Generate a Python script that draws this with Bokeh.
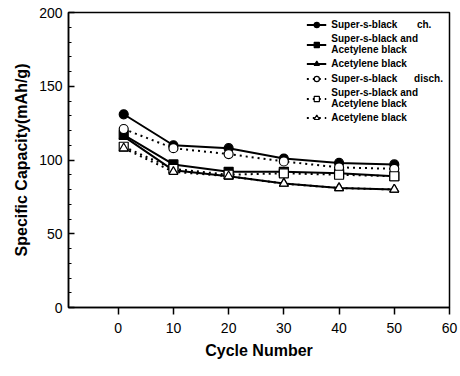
from bokeh.plotting import figure
from bokeh.models import Range1d, LinearAxis, FixedTicker, Legend, LegendItem
from bokeh.embed import file_html
from bokeh.resources import INLINE

cycles = [1, 10, 20, 30, 40, 50]
ch_super = [131, 110, 108, 101, 98, 97]
ch_super_ab = [117, 97, 92, 92, 91, 89]
ch_ab = [116, 93, 89, 84, 81, 80]
dis_super = [121, 108, 104, 99, 95, 94]
dis_super_ab = [109, 94, 90, 91, 90, 89]
dis_ab = [108, 92, 89, 84, 81, 80]

labels = ["Super-s-black\u00a0\u00a0\u00a0\u00a0\u00a0\u00a0\u00a0ch.",
          "Super-s-black and\nAcetylene black",
          "Acetylene black",
          "Super-s-black\u00a0\u00a0\u00a0\u00a0\u00a0\u00a0disch.",
          "Super-s-black and\nAcetylene black",
          "Acetylene black"]
x_ticks = [0, 10, 20, 30, 40, 50, 60]
y_ticks = [0, 50, 100, 150, 200]

FONT = "Liberation Sans"

p = figure(width=460, height=376, output_backend="svg", toolbar_location=None,
           x_range=Range1d(-9, 60), y_range=Range1d(0, 200),
           min_border_left=68, min_border_right=11, min_border_top=12, min_border_bottom=69)
p.xgrid.visible = False
p.ygrid.visible = False
p.outline_line_color = "black"
p.outline_line_width = 1.5
p.background_fill_color = "white"
p.border_fill_color = "white"

series = [
    (ch_super, "circle", "black", "solid"),
    (ch_super_ab, "square", "black", "solid"),
    (ch_ab, "triangle", "black", "solid"),
    (dis_super, "circle", "white", "2 4"),
    (dis_super_ab, "square", "white", "2 4"),
    (dis_ab, "triangle", "white", "2 4"),
]
items = []
for (vals, marker, fill, dash), lab in zip(series, labels):
    l = p.line(cycles, vals, line_color="black", line_width=2, line_dash=dash)
    s = p.scatter(cycles, vals, marker=marker, size=9, fill_color=fill,
                  line_color="black", line_width=1.2)
    items.append(LegendItem(label=lab, renderers=[l, s]))

legend = Legend(items=items, location="top_right")
legend.label_text_font = FONT
legend.label_text_font_style = "bold"
legend.label_text_font_size = "10px"
legend.label_text_color = "black"
legend.label_height = 13
legend.glyph_height = 13
legend.glyph_width = 20
legend.spacing = 2
legend.padding = 4
legend.margin = 2
legend.border_line_alpha = 0
legend.background_fill_alpha = 1
p.add_layout(legend)

xa = p.xaxis[0]
xa.ticker = FixedTicker(ticks=x_ticks)
xa.major_tick_out = 7
xa.major_tick_in = 0
xa.minor_tick_out = 0
xa.minor_tick_in = 0
xa.axis_line_width = 1.5
xa.major_tick_line_width = 1.5
xa.major_label_text_font = FONT
xa.major_label_text_font_size = "14px"
xa.major_label_text_color = "black"
xa.major_label_standoff = 8
xa.axis_label = "Cycle Number"
xa.axis_label_text_font = FONT
xa.axis_label_text_font_style = "bold"
xa.axis_label_text_font_size = "16px"
xa.axis_label_text_color = "black"
xa.axis_label_standoff = 6

ya = p.yaxis[0]
ya.ticker = FixedTicker(ticks=y_ticks, minor_ticks=list(range(0, 201, 10)))
ya.major_tick_in = 6
ya.major_tick_out = 0
ya.minor_tick_in = 3
ya.minor_tick_out = 0
ya.axis_line_width = 1.5
ya.major_tick_line_width = 1.5
ya.major_label_text_font = FONT
ya.major_label_text_font_size = "14px"
ya.major_label_text_color = "black"
ya.major_label_standoff = 6
ya.axis_label = "Specific Capacity(mAh/g)"
ya.axis_label_text_font = FONT
ya.axis_label_text_font_style = "bold"
ya.axis_label_text_font_size = "16px"
ya.axis_label_text_color = "black"
ya.axis_label_standoff = 6

html = file_html(p, INLINE)
open("out.html", "w").write(html)
